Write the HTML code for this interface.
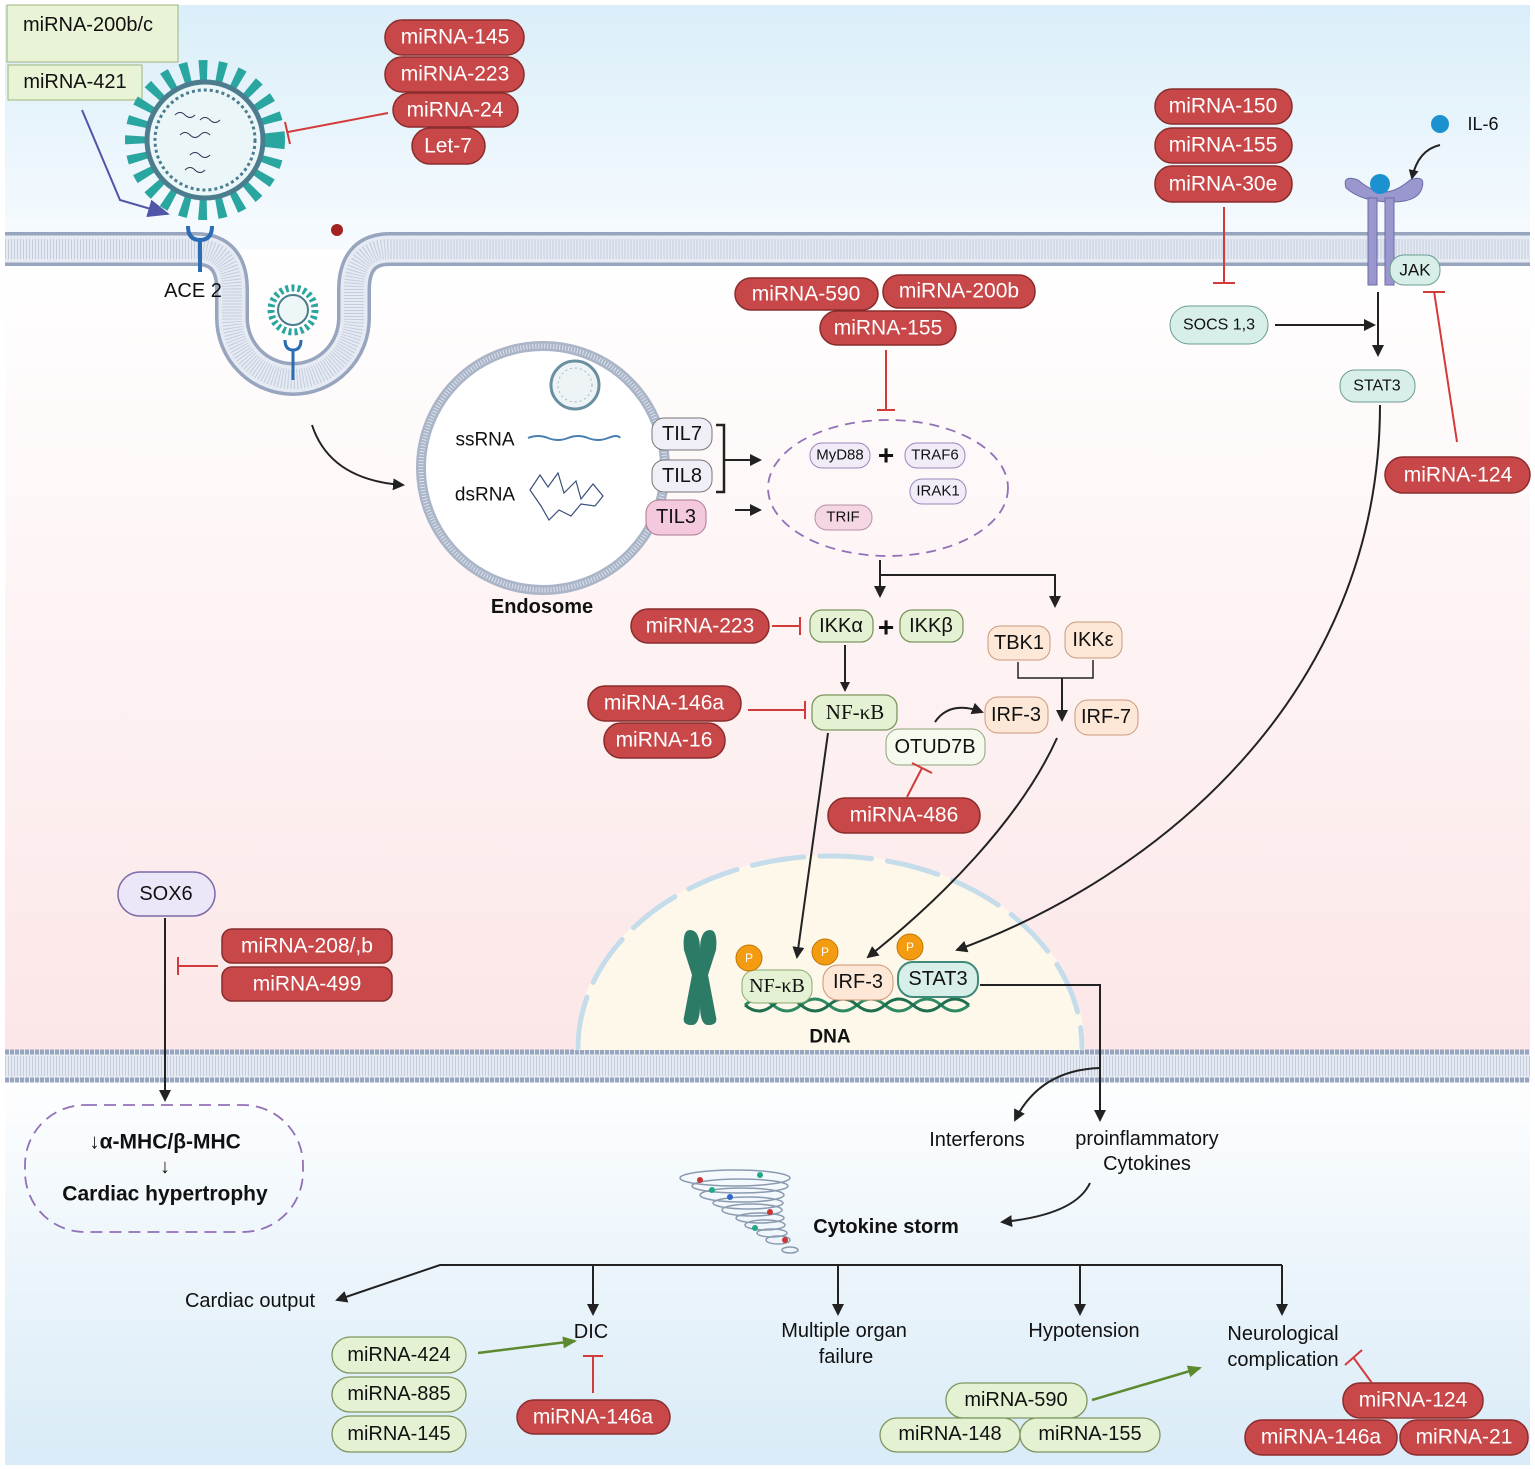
<!DOCTYPE html>
<html><head><meta charset="utf-8"><style>
html,body{margin:0;padding:0;background:#fff;}
svg{display:block;font-family:"Liberation Sans",sans-serif;}
.r{fill:#c8484a;stroke:#8a2c2c;stroke-width:1.5}
.rt{fill:#fff;font-size:21px;text-anchor:middle;dominant-baseline:central}
.g{fill:#e5f1d3;stroke:#7c9660;stroke-width:1.3}
.t{fill:#111;font-size:20px;text-anchor:middle;dominant-baseline:central}
.ts{fill:#111;font-size:15px;text-anchor:middle;dominant-baseline:central}
.k{stroke:#222;stroke-width:2;fill:none}
.inh{stroke:#d33b3b;stroke-width:2;fill:none}
</style></head><body>
<svg width="1535" height="1469" viewBox="0 0 1535 1469" xmlns="http://www.w3.org/2000/svg">
<defs>
<linearGradient id="gt" x1="0" y1="0" x2="0" y2="1"><stop offset="0" stop-color="#daeef9"/><stop offset="1" stop-color="#f7fbfe"/></linearGradient>
<linearGradient id="gm" x1="0" y1="0" x2="0" y2="1"><stop offset="0" stop-color="#ffffff"/><stop offset="1" stop-color="#fce6e7"/></linearGradient>
<linearGradient id="gb" x1="0" y1="0" x2="0" y2="1"><stop offset="0" stop-color="#ffffff"/><stop offset="1" stop-color="#d9ebf7"/></linearGradient>
<marker id="a" markerWidth="10" markerHeight="10" refX="8" refY="5" orient="auto" markerUnits="userSpaceOnUse"><path d="M0,0 L10,5 L0,10 z" fill="#222"/></marker>
<marker id="ab" markerWidth="12" markerHeight="12" refX="10" refY="6" orient="auto" markerUnits="userSpaceOnUse"><path d="M0,0 L12,6 L0,12 z" fill="#222"/></marker>
<marker id="ag" markerWidth="14" markerHeight="12" refX="12" refY="6" orient="auto" markerUnits="userSpaceOnUse"><path d="M0,0 L14,6 L0,12 z" fill="#5d8a2e"/></marker>
<marker id="ap" markerWidth="22" markerHeight="18" refX="20" refY="9" orient="auto" markerUnits="userSpaceOnUse"><path d="M0,0 L22,9 L0,18 z" fill="#5055a8"/></marker>
</defs>
<rect x="5" y="5" width="1525" height="245" fill="url(#gt)"/>
<rect x="5" y="250" width="1525" height="816" fill="url(#gm)"/>
<rect x="5" y="1066" width="1525" height="399" fill="url(#gb)"/>

<!-- membranes -->
<g fill="none">
<path d="M5,249 H196 Q232,249 232,290 V318 A61,61 0 0 0 354,318 V290 Q354,249 390,249 H1530" stroke="#97a5bf" stroke-width="34"/>
<path d="M5,249 H196 Q232,249 232,290 V318 A61,61 0 0 0 354,318 V290 Q354,249 390,249 H1530" stroke="#e6ebf3" stroke-width="27"/>
<path d="M5,249 H196 Q232,249 232,290 V318 A61,61 0 0 0 354,318 V290 Q354,249 390,249 H1530" stroke="#c3cddd" stroke-width="20" stroke-dasharray="1 2"/>
<rect x="5" y="1050" width="1525" height="32" fill="#e6ebf3"/>
<line x1="5" y1="1052" x2="1530" y2="1052" stroke="#97a5bf" stroke-width="5" stroke-dasharray="4 1"/>
<line x1="5" y1="1080" x2="1530" y2="1080" stroke="#97a5bf" stroke-width="5" stroke-dasharray="4 1"/>
<line x1="5" y1="1066" x2="1530" y2="1066" stroke="#c3cddd" stroke-width="20" stroke-dasharray="1 2"/>
</g>
<circle cx="337" cy="230" r="6" fill="#a52222"/>

<!-- top-left boxes -->
<rect x="7" y="5" width="171" height="57" fill="#e9f3d6" stroke="#9db57a"/>
<text x="88" y="25" class="t">miRNA-200b/c</text>
<rect x="8" y="65" width="134" height="35" fill="#e9f3d6" stroke="#9db57a"/>
<text x="75" y="82" class="t">miRNA-421</text>
<path d="M82,110 L120,200 L168,214" stroke="#5055a8" stroke-width="2" fill="none" marker-end="url(#ap)"/>

<!-- virus -->
<g>
<circle cx="205" cy="140" r="70" fill="none" stroke="#2aa6a0" stroke-width="20" stroke-dasharray="8 10"/>
<circle cx="205" cy="140" r="58" fill="#eaf6f8" stroke="#4b7d8e" stroke-width="5"/>
<circle cx="205" cy="140" r="50" fill="none" stroke="#4b7d8e" stroke-width="3" stroke-dasharray="3 3"/>
<path d="M175,115 q5,-5 10,0 t10,0 M180,135 q5,-5 10,0 t10,0 t10,0 M190,155 q5,-5 10,0 t10,0 M200,120 q5,-5 10,0 t10,0 M185,170 q5,-5 10,0 t10,0" stroke="#335" fill="none"/>
</g>
<path d="M188,226 q0,14 12,14 q12,0 12,-14 M200,240 V272" stroke="#2b6cb5" stroke-width="4" fill="none"/>
<text x="193" y="291" class="t">ACE 2</text>
<circle cx="293" cy="310" r="22" fill="none" stroke="#2aa6a0" stroke-width="7" stroke-dasharray="3 3"/>
<circle cx="293" cy="310" r="15" fill="#eef7f8" stroke="#4b7d8e" stroke-width="2"/>
<path d="M285,340 q0,10 8,10 q8,0 8,-10 M293,350 V380" stroke="#2b6cb5" stroke-width="3" fill="none"/>

<rect x="385" y="20" width="139" height="35" rx="17" class="r"/><text x="455" y="37" class="rt">miRNA-145</text>
<rect x="385" y="57" width="139" height="35" rx="17" class="r"/><text x="455" y="74" class="rt">miRNA-223</text>
<rect x="393" y="93" width="125" height="34" rx="17" class="r"/><text x="455" y="110" class="rt">miRNA-24</text>
<rect x="412" y="128" width="73" height="36" rx="18" class="r"/><text x="448" y="146" class="rt">Let-7</text>
<path d="M388,113 L288,132 M285,122 L290,144" class="inh"/>

<!-- endosome -->
<path d="M312,425 Q330,480 403,485" class="k" marker-end="url(#ab)"/>
<circle cx="543" cy="468" r="122" fill="#fff" stroke="#aab5c8" stroke-width="10"/>
<circle cx="543" cy="468" r="122" fill="none" stroke="#dfe5ee" stroke-width="5" stroke-dasharray="1 2"/>
<circle cx="575" cy="385" r="24" fill="#eef4f6" stroke="#6a8fa0" stroke-width="3"/>
<circle cx="575" cy="385" r="17" fill="none" stroke="#9bb" stroke-width="1" stroke-dasharray="2 3"/>
<text x="485" y="440" class="t" style="font-size:19px">ssRNA</text>
<text x="485" y="495" class="t" style="font-size:19px">dsRNA</text>
<path d="M528,438 q10,-4 20,0 t20,0 t20,0 t20,0 t12,0" stroke="#4a7fb0" stroke-width="2" fill="none"/>
<path d="M530,490 l10,-15 l8,12 l10,-14 l6,20 l12,-12 l5,18 l12,-15 l10,12 l-8,10 l-14,-2 l-10,12 l-12,-6 l-10,10 l-8,-14 z" stroke="#3b4f7a" stroke-width="1.2" fill="none"/>
<text x="542" y="607" class="t" style="font-weight:bold">Endosome</text>
<rect x="652" y="418" width="60" height="32" rx="12" fill="#f0eef6" stroke="#777"/><text x="682" y="434" class="t">TIL7</text>
<rect x="652" y="460" width="60" height="32" rx="12" fill="#f0eef6" stroke="#777"/><text x="682" y="476" class="t">TIL8</text>
<rect x="646" y="500" width="60" height="35" rx="13" fill="#f4c9dd" stroke="#aa7790"/><text x="676" y="517" class="t">TIL3</text>
<path d="M716,425 H724 V492 H716" stroke="#222" stroke-width="2.5" fill="none"/>
<path d="M724,460 H760" class="k" marker-end="url(#ab)" stroke-width="2.5"/>
<path d="M735,510 H760" class="k" marker-end="url(#ab)" stroke-width="2.5"/>
<ellipse cx="888" cy="488" rx="120" ry="68" fill="none" stroke="#9270b8" stroke-width="1.8" stroke-dasharray="10 7"/>
<rect x="810" y="443" width="60" height="25" rx="12" fill="#f1ecf8" stroke="#9a88b8"/><text x="840" y="455" class="ts">MyD88</text>
<text x="886" y="455" class="t" style="font-size:28px;font-weight:bold">+</text>
<rect x="905" y="443" width="60" height="25" rx="12" fill="#f1ecf8" stroke="#9a88b8"/><text x="935" y="455" class="ts">TRAF6</text>
<rect x="910" y="479" width="56" height="25" rx="12" fill="#f1ecf8" stroke="#9a88b8"/><text x="938" y="491" class="ts">IRAK1</text>
<rect x="815" y="505" width="57" height="25" rx="12" fill="#f5d6e4" stroke="#b890a4"/><text x="843" y="517" class="ts">TRIF</text>

<rect x="735" y="278" width="143" height="32" rx="16" class="r"/><text x="806" y="294" class="rt">miRNA-590</text>
<rect x="883" y="275" width="152" height="33" rx="16" class="r"/><text x="959" y="291" class="rt">miRNA-200b</text>
<rect x="820" y="311" width="136" height="34" rx="17" class="r"/><text x="888" y="328" class="rt">miRNA-155</text>
<path d="M886,350 V410 M877,410 H895" class="inh"/>

<path d="M880,560 V596" class="k" marker-end="url(#ab)"/>
<path d="M880,575 H1055 V606" class="k" marker-end="url(#ab)"/>

<rect x="631" y="609" width="138" height="34" rx="17" class="r"/><text x="700" y="626" class="rt">miRNA-223</text>
<path d="M772,626 H800 M800,617 V635" class="inh"/>
<rect x="810" y="610" width="63" height="32" rx="12" class="g"/><text x="841" y="626" class="t">IKKα</text>
<text x="886" y="627" class="t" style="font-size:28px;font-weight:bold">+</text>
<rect x="900" y="610" width="63" height="32" rx="12" class="g"/><text x="931" y="626" class="t">IKKβ</text>
<rect x="988" y="626" width="62" height="34" rx="12" fill="#fde7d6" stroke="#c99a7c"/><text x="1019" y="643" class="t">TBK1</text>
<rect x="1065" y="622" width="57" height="36" rx="12" fill="#fde7d6" stroke="#c99a7c"/><text x="1093" y="640" class="t">IKKε</text>
<path d="M1018,662 V678 H1093 V660" stroke="#222" stroke-width="1.5" fill="none"/>
<path d="M1062,678 V720" class="k" marker-end="url(#ab)"/>
<path d="M845,645 V690" class="k" marker-end="url(#a)"/>
<rect x="812" y="695" width="85" height="35" rx="12" class="g"/><text x="855" y="712" class="t" style="font-family:'Liberation Serif',serif;font-size:21px">NF-κB</text>
<rect x="588" y="686" width="153" height="35" rx="17" class="r"/><text x="664" y="703" class="rt">miRNA-146a</text>
<rect x="604" y="723" width="121" height="35" rx="17" class="r"/><text x="664" y="740" class="rt">miRNA-16</text>
<path d="M748,710 H805 M805,701 V719" class="inh"/>
<rect x="985" y="697" width="63" height="36" rx="13" fill="#fde7d6" stroke="#c99a7c"/><text x="1016" y="715" class="t">IRF-3</text>
<rect x="1075" y="700" width="63" height="35" rx="13" fill="#fde7d6" stroke="#c99a7c"/><text x="1106" y="717" class="t">IRF-7</text>
<rect x="886" y="729" width="99" height="36" rx="13" fill="#f5f9ee" stroke="#8da478"/><text x="935" y="747" class="t">OTUD7B</text>
<path d="M935,722 Q950,700 982,712" class="k" marker-end="url(#ab)"/>
<rect x="828" y="798" width="152" height="35" rx="17" class="r"/><text x="904" y="815" class="rt">miRNA-486</text>
<path d="M907,797 L922,768 M912,763 L932,773" class="inh"/>

<!-- right side -->
<rect x="1155" y="89" width="137" height="35" rx="17" class="r"/><text x="1223" y="106" class="rt">miRNA-150</text>
<rect x="1155" y="128" width="137" height="35" rx="17" class="r"/><text x="1223" y="145" class="rt">miRNA-155</text>
<rect x="1155" y="166" width="137" height="36" rx="17" class="r"/><text x="1223" y="184" class="rt">miRNA-30e</text>
<path d="M1224,207 V283 M1213,283 H1235" class="inh"/>
<rect x="1170" y="306" width="98" height="38" rx="19" fill="#d8efe9" stroke="#6a9c90"/><text x="1219" y="325" class="ts" style="font-size:16px">SOCS 1,3</text>
<path d="M1275,325 H1374" class="k" marker-end="url(#ab)"/>
<circle cx="1440" cy="124" r="9" fill="#1b92cf"/>
<text x="1483" y="124" class="t" style="font-size:18px">IL-6</text>
<path d="M1440,145 Q1418,150 1412,178" class="k" marker-end="url(#a)"/>
<path d="M1346,188 q-4,-14 12,-8 q14,12 26,12 q12,0 26,-12 q16,-6 12,8 q-4,14 -30,14 q-30,0 -46,-14z" fill="#9a97cf" stroke="#6d6aa8"/>
<rect x="1368" y="198" width="9" height="87" fill="#9a97cf" stroke="#6d6aa8"/>
<rect x="1385" y="198" width="9" height="87" fill="#9a97cf" stroke="#6d6aa8"/>
<circle cx="1380" cy="184" r="10" fill="#1b92cf"/>
<rect x="1390" y="255" width="50" height="30" rx="14" fill="#d8efe9" stroke="#6a9c90"/><text x="1415" y="270" class="ts" style="font-size:17px">JAK</text>
<path d="M1378,292 V355" class="k" marker-end="url(#ab)"/>
<rect x="1340" y="370" width="75" height="32" rx="15" fill="#d8efe9" stroke="#6a9c90"/><text x="1377" y="386" class="ts" style="font-size:16px">STAT3</text>
<rect x="1385" y="457" width="145" height="36" rx="18" class="r"/><text x="1458" y="475" class="rt">miRNA-124</text>
<path d="M1457,442 L1434,291 M1423,292 H1445" class="inh"/>

<!-- nucleus -->
<path d="M575,1050 A255,195 0 0 1 1085,1050 Z" fill="#fdf8ea"/>
<path d="M578,1048 A252,192 0 0 1 1082,1048" fill="none" stroke="#c5dcea" stroke-width="5" stroke-dasharray="52 16" stroke-linecap="round"/>
<path d="M1380,405 C1380,700 1150,880 957,950" class="k" marker-end="url(#ab)"/>
<path d="M828,733 L797,957" class="k" marker-end="url(#ab)"/>
<path d="M1057,738 C1020,820 940,900 868,957" class="k" marker-end="url(#ab)"/>
<path d="M690,930 q10,0 10,20 q0,-20 10,-20 q8,0 6,20 l-8,25 l8,42 q2,8 -8,8 q-8,0 -8,-20 q0,20 -8,20 q-10,0 -8,-8 l8,-42 l-8,-25 q-2,-20 6,-20z" fill="#2c7b66"/>
<path d="M745,1005 q14,-12 28,0 t28,0 t28,0 t28,0 t28,0 t28,0 t28,0 t28,0" stroke="#2e8a63" stroke-width="3" fill="none"/>
<path d="M745,1005 q14,12 28,0 t28,0 t28,0 t28,0 t28,0 t28,0 t28,0 t28,0" stroke="#1f6e4f" stroke-width="3" fill="none"/>
<rect x="742" y="970" width="70" height="33" rx="13" fill="#e5f1d3" stroke="#8aa870"/><text x="777" y="986" class="t" style="font-family:'Liberation Serif',serif">NF-κB</text>
<rect x="823" y="965" width="70" height="35" rx="15" fill="#fde7d6" stroke="#d09474"/><text x="858" y="982" class="t">IRF-3</text>
<rect x="898" y="962" width="80" height="35" rx="15" fill="#d8efe9" stroke="#3f8a7a" stroke-width="2"/><text x="938" y="979" class="t">STAT3</text>
<circle cx="749" cy="958" r="13" fill="#f39c12" stroke="#c47400"/><text x="749" y="958" class="ts" style="fill:#fff;font-size:12px">P</text>
<circle cx="825" cy="952" r="13" fill="#f39c12" stroke="#c47400"/><text x="825" y="952" class="ts" style="fill:#fff;font-size:12px">P</text>
<circle cx="910" cy="947" r="13" fill="#f39c12" stroke="#c47400"/><text x="910" y="947" class="ts" style="fill:#fff;font-size:12px">P</text>
<text x="830" y="1037" class="t" style="font-weight:bold;font-size:19px">DNA</text>
<path d="M980,985 H1100 V1120" class="k" marker-end="url(#ab)"/>
<path d="M1100,1068 Q1040,1070 1015,1120" class="k" marker-end="url(#ab)"/>
<text x="977" y="1140" class="t">Interferons</text>
<text x="1147" y="1139" class="t">proinflammatory</text>
<text x="1147" y="1164" class="t">Cytokines</text>
<path d="M1090,1183 Q1075,1215 1002,1222" class="k" marker-end="url(#ab)"/>
<g fill="none" stroke="#8a9bb0" stroke-width="1.5">
<ellipse cx="735" cy="1178" rx="55" ry="8"/><ellipse cx="740" cy="1186" rx="48" ry="7"/><ellipse cx="742" cy="1195" rx="42" ry="7"/><ellipse cx="748" cy="1203" rx="35" ry="6"/><ellipse cx="752" cy="1210" rx="30" ry="6"/><ellipse cx="760" cy="1218" rx="24" ry="5"/><ellipse cx="765" cy="1225" rx="20" ry="5"/><ellipse cx="772" cy="1233" rx="15" ry="4"/><ellipse cx="778" cy="1240" rx="12" ry="4"/><ellipse cx="790" cy="1250" rx="8" ry="3"/></g>
<circle cx="700" cy="1180" r="3" fill="#c33"/><circle cx="760" cy="1175" r="3" fill="#2a8"/><circle cx="730" cy="1197" r="3" fill="#36c"/><circle cx="770" cy="1212" r="3" fill="#c33"/><circle cx="755" cy="1228" r="3" fill="#2a8"/><circle cx="712" cy="1190" r="3" fill="#2a8"/><circle cx="785" cy="1240" r="3" fill="#c33"/>
<text x="886" y="1227" class="t" style="font-weight:bold">Cytokine storm</text>

<!-- bottom branches -->
<path d="M1282,1265 H440 L337,1300" class="k" marker-end="url(#ab)"/>
<path d="M593,1265 V1314" class="k" marker-end="url(#ab)"/>
<path d="M838,1265 V1314" class="k" marker-end="url(#ab)"/>
<path d="M1080,1265 V1314" class="k" marker-end="url(#ab)"/>
<path d="M1282,1265 V1314" class="k" marker-end="url(#ab)"/>
<text x="250" y="1301" class="t">Cardiac output</text>
<text x="591" y="1332" class="t">DIC</text>
<text x="844" y="1331" class="t">Multiple organ</text>
<text x="846" y="1357" class="t">failure</text>
<text x="1084" y="1331" class="t">Hypotension</text>
<text x="1283" y="1334" class="t">Neurological</text>
<text x="1283" y="1360" class="t">complication</text>

<rect x="332" y="1337" width="134" height="36" rx="18" class="g"/><text x="399" y="1355" class="t">miRNA-424</text>
<rect x="332" y="1377" width="134" height="35" rx="18" class="g"/><text x="399" y="1394" class="t">miRNA-885</text>
<rect x="332" y="1416" width="134" height="36" rx="18" class="g"/><text x="399" y="1434" class="t">miRNA-145</text>
<path d="M478,1353 L575,1341" stroke="#5d8a2e" stroke-width="2.5" fill="none" marker-end="url(#ag)"/>
<rect x="517" y="1400" width="153" height="34" rx="17" class="r"/><text x="593" y="1417" class="rt">miRNA-146a</text>
<path d="M593,1393 V1356 M583,1356 H603" class="inh"/>
<rect x="946" y="1383" width="141" height="35" rx="17" class="g"/><text x="1016" y="1400" class="t">miRNA-590</text>
<rect x="880" y="1418" width="140" height="34" rx="17" class="g"/><text x="950" y="1434" class="t">miRNA-148</text>
<rect x="1020" y="1418" width="140" height="34" rx="17" class="g"/><text x="1090" y="1434" class="t">miRNA-155</text>
<path d="M1092,1400 L1200,1368" stroke="#5d8a2e" stroke-width="2.5" fill="none" marker-end="url(#ag)"/>
<rect x="1343" y="1383" width="140" height="35" rx="17" class="r"/><text x="1413" y="1400" class="rt">miRNA-124</text>
<rect x="1245" y="1420" width="152" height="35" rx="17" class="r"/><text x="1321" y="1437" class="rt">miRNA-146a</text>
<rect x="1400" y="1420" width="128" height="35" rx="17" class="r"/><text x="1464" y="1437" class="rt">miRNA-21</text>
<path d="M1372,1383 L1353,1357 M1345,1365 L1362,1350" class="inh"/>

<!-- SOX6 -->
<rect x="118" y="872" width="97" height="44" rx="22" fill="#ece7f8" stroke="#7d6aa8" stroke-width="1.5"/><text x="166" y="894" class="t">SOX6</text>
<path d="M165,918 V1100" class="k" marker-end="url(#ab)"/>
<rect x="222" y="929" width="170" height="34" rx="10" class="r"/><text x="307" y="946" class="rt">miRNA-208/,b</text>
<rect x="222" y="967" width="170" height="34" rx="10" class="r"/><text x="307" y="984" class="rt">miRNA-499</text>
<path d="M218,966 H178 M178,957 V975" class="inh"/>
<rect x="25" y="1105" width="278" height="127" rx="60" fill="none" stroke="#9270b8" stroke-width="1.8" stroke-dasharray="12 7"/>
<text x="165" y="1142" class="t" style="font-weight:bold;font-size:21px">↓α-MHC/β-MHC</text>
<text x="165" y="1167" class="t">↓</text>
<text x="165" y="1194" class="t" style="font-weight:bold;font-size:21px">Cardiac hypertrophy</text>
</svg>
</body></html>
